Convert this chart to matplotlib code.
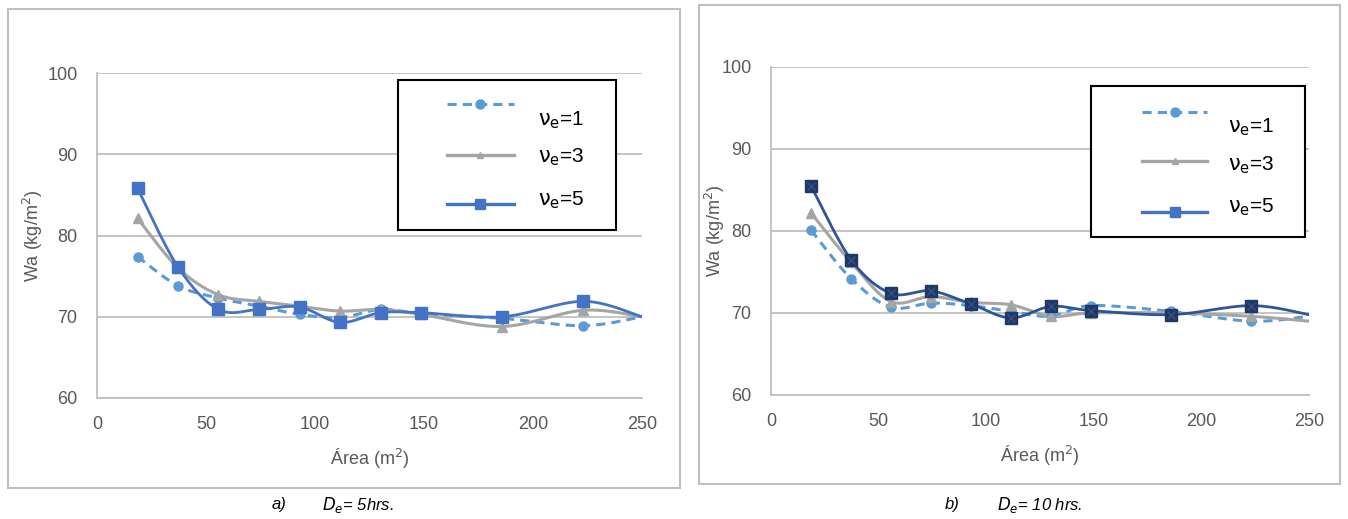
import numpy as np
import matplotlib
matplotlib.use('Agg')
import matplotlib.pyplot as plt
from matplotlib.patches import Rectangle

plt.rcParams['font.family'] = ['Liberation Sans Narrow', 'Liberation Sans', 'DejaVu Sans']

# data
area = [18.6, 37.2, 55.7, 74.3, 92.9, 111.5, 130.1, 148.6, 185.8, 223.0, 250.0]

wa_5h_v1 = [77.4, 73.8, 72.3, 71.3, 70.3, 69.9, 70.9, 70.4, 69.8, 68.9, 70.0]
wa_5h_v3 = [82.1, 76.0, 72.7, 71.9, 71.3, 70.7, 70.9, 70.3, 68.8, 70.8, 70.0]
wa_5h_v5 = [85.8, 76.1, 70.9, 70.9, 71.2, 69.3, 70.5, 70.5, 70.0, 71.9, 70.0]

wa_10h_v1 = [80.1, 74.2, 70.7, 71.2, 70.9, 70.2, 69.6, 70.9, 70.2, 69.0, 69.6]
wa_10h_v3 = [82.2, 76.2, 71.4, 72.0, 71.3, 71.0, 69.6, 70.0, 70.0, 69.6, 69.0]
wa_10h_v5 = [85.5, 76.5, 72.4, 72.7, 71.1, 69.4, 70.8, 70.3, 69.8, 70.9, 69.8]

labels = [r'$\mathrm{\nu_e}$=1', r'$\mathrm{\nu_e}$=3', r'$\mathrm{\nu_e}$=5']
yticks = [60, 70, 80, 90, 100]
xticks = [0, 50, 100, 150, 200, 250]

c1 = '#5B9BD5'
c3 = '#A5A5A5'
c5 = '#4472C4'
c5_dark = '#2F5597'
c5_mark = '#203864'
txt = '#595959'
grid = '#BFBFBF'


def smooth(x, y, n=30):
    # catmull-rom curve through the points (like Excel's smoothed line)
    x = np.asarray(x, float)
    y = np.asarray(y, float)
    px = np.concatenate([[x[0]], x, [x[-1]]])
    py = np.concatenate([[y[0]], y, [y[-1]]])
    xs, ys = [], []
    t = np.linspace(0, 1, n)
    for i in range(1, len(px) - 2):
        for p, out in ((px, xs), (py, ys)):
            p0, p1, p2, p3 = p[i - 1], p[i], p[i + 1], p[i + 2]
            out.extend(0.5 * ((2 * p1) + (-p0 + p2) * t
                              + (2 * p0 - 5 * p1 + 4 * p2 - p3) * t ** 2
                              + (-p0 + 3 * p1 - 3 * p2 + p3) * t ** 3))
    return xs, ys


def draw_legend(ax, box, hx, tx, ly, ty):
    # Excel-style legend box, text sits a bit off the sample lines
    tr = ax.transAxes
    ax.add_patch(Rectangle((box[0], box[1]), box[2] - box[0], box[3] - box[1], transform=tr,
                           fc='white', ec='black', lw=1.5, zorder=10, clip_on=False))
    styles = [
        dict(color=c1, lw=2.2, ls=(0, (3, 2)), marker='o', ms=6.5),
        dict(color=c3, lw=2.4, marker='^', ms=4),
        dict(color=c5, lw=2.4, marker='s', ms=6.5),
    ]
    xm = (hx[0] + hx[1]) / 2
    for st, y, yt, lab in zip(styles, ly, ty, labels):
        mk = st.pop('marker')
        ms = st.pop('ms')
        ax.plot(hx, [y, y], transform=tr, zorder=11, clip_on=False, **st)
        ax.plot([xm], [y], marker=mk, ms=ms, color=st['color'], transform=tr, zorder=12,
                clip_on=False)
        ax.text(tx, yt, lab, transform=tr, fontsize=15, va='center', ha='left', zorder=12)


W, H = 1348, 519
fig = plt.figure(figsize=(W / 100, H / 100), dpi=100)

# panel frames
fig.patches.append(Rectangle((8 / W, 1 - 488 / H), 672 / W, 479 / H, transform=fig.transFigure,
                             fill=False, ec='#BFBFBF', lw=1.5))
fig.patches.append(Rectangle((699 / W, 1 - 484 / H), 641 / W, 479 / H, transform=fig.transFigure,
                             fill=False, ec='#BFBFBF', lw=1.5))

ax1 = fig.add_axes([97 / W, 1 - 398 / H, 545 / W, 325 / H])
ax2 = fig.add_axes([771 / W, 1 - 395 / H, 538 / W, 328 / H])

series = [
    (ax1, wa_5h_v1, wa_5h_v3, wa_5h_v5, c5, c5, False, 2),
    (ax2, wa_10h_v1, wa_10h_v3, wa_10h_v5, c5_dark, c5_mark, True, -4),
]

for ax, v1, v3, v5, lc5, mc5, cross, ylpad in series:
    sx, sy = smooth(area, v1)
    ax.plot(sx, sy, color=c1, lw=2.2, ls=(0, (3, 2)), zorder=3)
    ax.plot(area[:-1], v1[:-1], 'o', color=c1, ms=6.5, zorder=4)
    sx, sy = smooth(area, v3)
    ax.plot(sx, sy, color=c3, lw=2.2, zorder=3)
    ax.plot(area[:-1], v3[:-1], '^', color=c3, ms=7, zorder=4)
    sx, sy = smooth(area, v5)
    ax.plot(sx, sy, color=lc5, lw=2.0, zorder=5)
    ax.plot(area[:-1], v5[:-1], 's', color=mc5, ms=8, zorder=6)
    if cross:
        ax.plot(area[:-1], v5[:-1], 'x', color='#34508A', ms=6, mew=1, zorder=7)

    ax.set_xlim(0, 250)
    ax.set_ylim(60, 100)
    ax.set_xticks(xticks)
    ax.set_yticks(yticks)
    ax.grid(axis='y', color=grid, lw=1.3)
    ax.set_axisbelow(True)
    for s in ['top', 'right']:
        ax.spines[s].set_visible(False)
    for s in ['left', 'bottom']:
        ax.spines[s].set_color(grid)
        ax.spines[s].set_linewidth(1.3)
    ax.tick_params(length=0, labelsize=13, labelcolor=txt)
    ax.tick_params(axis='y', pad=14)
    ax.tick_params(axis='x', pad=13)
    ax.set_xlabel('Área (m$^2$)', fontsize=13, color=txt, labelpad=10)
    ax.set_ylabel('Wa (kg/m$^2$)', fontsize=13, color=txt, labelpad=ylpad)

draw_legend(ax1, (0.552, 0.517, 0.952, 0.978), (0.642, 0.765), 0.809,
            (0.905, 0.748, 0.597), (0.855, 0.742, 0.609))
draw_legend(ax2, (0.595, 0.482, 0.993, 0.942), (0.690, 0.811), 0.850,
            (0.863, 0.713, 0.558), (0.817, 0.701, 0.573))

fig.text(272 / W, 1 - 505 / H, 'a)', style='italic', fontsize=12, va='center')
fig.text(322 / W, 1 - 505 / H, '$D_e$= 5hrs.', style='italic', fontsize=12, va='center')
fig.text(945 / W, 1 - 505 / H, 'b)', style='italic', fontsize=12, va='center')
fig.text(997 / W, 1 - 505 / H, '$D_e$= 10 hrs.', style='italic', fontsize=12, va='center')

fig.savefig('out.png', dpi=100, facecolor='white')
